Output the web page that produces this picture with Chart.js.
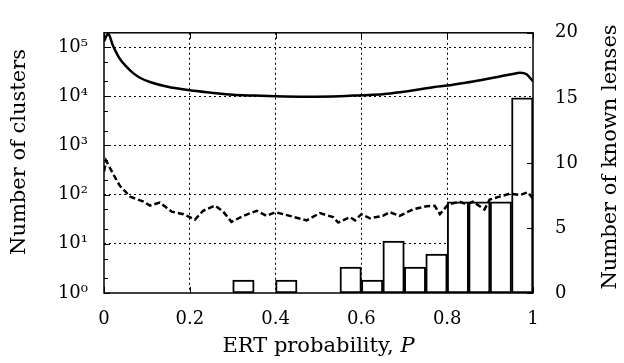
<!DOCTYPE html>
<html>
<head>
<meta charset="utf-8">
<script src="https://cdn.jsdelivr.net/npm/chart.js@4.4.1/dist/chart.umd.min.js"></script>
<style>
  html, body { margin: 0; padding: 0; background: #fff; }
</style>
</head>
<body>
<canvas id="chart" width="624" height="363"></canvas>
<script>
// ERT probability of all clusters (solid line, left log axis)
const allP = [0, 0.01, 0.02, 0.037, 0.05, 0.068, 0.085, 0.107, 0.146, 0.2, 0.25, 0.3, 0.35, 0.4, 0.47,
              0.55, 0.6, 0.65, 0.69, 0.73, 0.77, 0.8, 0.845, 0.88, 0.92, 0.95, 0.97, 0.985, 1.0];
const allN = [132000, 186000, 112000, 57500, 42000, 29500, 23500, 19500, 15800, 13200, 11800, 10700, 10300, 10000, 9800,
              10000, 10500, 11000, 12000, 13500, 15500, 16500, 19000, 21500, 25000, 28000, 30000, 28000, 20000];

// second cluster sample (dashed line, left log axis)
const subP = [0, 0.005, 0.022, 0.037, 0.061, 0.092, 0.107, 0.13, 0.158, 0.185, 0.212, 0.231, 0.259, 0.278, 0.297,
              0.325, 0.356, 0.379, 0.4, 0.433, 0.472, 0.503, 0.534, 0.546, 0.573, 0.585, 0.6, 0.62, 0.65, 0.666,
              0.689, 0.72, 0.752, 0.771, 0.783, 0.802, 0.829, 0.845, 0.86, 0.887, 0.899, 0.922, 0.946, 0.969, 0.988, 1.0];
const subN = [295, 490, 257, 151, 91, 72, 60, 69, 45, 40, 31, 47, 60, 45, 28,
              37, 47, 37, 44, 37, 30, 42, 35, 27, 35, 30, 40, 33, 37, 44,
              37, 50, 58, 59, 40, 63, 72, 63, 72, 50, 79, 91, 105, 98, 112, 83];

// known lenses histogram (right axis), bins of width 0.05
const binCenters = [0.025, 0.075, 0.125, 0.175, 0.225, 0.275, 0.325, 0.375, 0.425, 0.475,
                    0.525, 0.575, 0.625, 0.675, 0.725, 0.775, 0.825, 0.875, 0.925, 0.975];
const lensCounts = [0, 0, 0, 0, 0, 0, 1, 0, 1, 0, 0, 2, 1, 4, 2, 3, 7, 7, 7, 15];

const xTicks = [0, 0.2, 0.4, 0.6, 0.8, 1];
const decades = [1, 10, 100, 1000, 10000, 100000];
const minorLog = [2, 5, 20, 50, 200, 500, 2000, 5000, 20000, 50000];
const rightTicks = [0, 5, 10, 15, 20];

const FONT = 'DejaVu Serif';
const TITLE_SIZE = 21;
const sup = ['⁰', '¹', '²', '³', '⁴', '⁵'];

const frame = {
  id: 'frame',
  afterDatasetsDraw(chart) {
    const { ctx, chartArea: a, scales } = chart;
    ctx.save();
    ctx.strokeStyle = '#000';
    ctx.lineWidth = 1;
    ctx.setLineDash([]);
    ctx.beginPath();
    // inward minor ticks, log axis (left)
    minorLog.forEach(v => {
      const y = Math.round(scales.y.getPixelForValue(v)) + 0.5;
      ctx.moveTo(a.left, y); ctx.lineTo(a.left + 4, y);
    });
    decades.forEach(v => {
      const y = Math.round(scales.y.getPixelForValue(v)) + 0.5;
      ctx.moveTo(a.left, y); ctx.lineTo(a.left + 6, y);
    });
    // inward ticks, right axis
    rightTicks.forEach(v => {
      const y = Math.round(scales.y2.getPixelForValue(v)) + 0.5;
      ctx.moveTo(a.right, y); ctx.lineTo(a.right - 6, y);
    });
    // x ticks top and bottom
    xTicks.forEach(v => {
      const x = Math.round(scales.x.getPixelForValue(v)) + 0.5;
      ctx.moveTo(x, a.bottom); ctx.lineTo(x, a.bottom - 6);
      ctx.moveTo(x, a.top); ctx.lineTo(x, a.top + 6);
    });
    ctx.stroke();
    ctx.lineWidth = 1.5;
    ctx.strokeRect(a.left, a.top, a.right - a.left, a.bottom - a.top);

    ctx.fillStyle = '#000';
    ctx.font = TITLE_SIZE + 'px "' + FONT + '"';
    ctx.textAlign = 'center';
    ctx.textBaseline = 'middle';
    // left axis title (reads bottom to top)
    ctx.save();
    ctx.translate(20, 152);
    ctx.rotate(-Math.PI / 2);
    ctx.fillText('Number of clusters', 0, 0);
    ctx.restore();
    // right axis title (reads bottom to top)
    ctx.save();
    ctx.translate(611, 157);
    ctx.rotate(-Math.PI / 2);
    ctx.fillText('Number of known lenses', 0, 0);
    ctx.restore();

    // x axis title with italic P
    const t1 = 'ERT probability, ';
    const t2 = 'P';
    ctx.font = TITLE_SIZE + 'px "' + FONT + '"';
    const w1 = ctx.measureText(t1).width;
    ctx.font = 'italic ' + TITLE_SIZE + 'px "' + FONT + '"';
    const w2 = ctx.measureText(t2).width;
    const x0 = (a.left + a.right) / 2 - (w1 + w2) / 2;
    ctx.textAlign = 'left';
    ctx.font = TITLE_SIZE + 'px "' + FONT + '"';
    ctx.fillText(t1, x0, 347);
    ctx.font = 'italic ' + TITLE_SIZE + 'px "' + FONT + '"';
    ctx.fillText(t2, x0 + w1, 347);
    ctx.restore();
  }
};

const dotted = [2, 3];

new Chart(document.getElementById('chart'), {
  data: {
    datasets: [
      {
        type: 'line',
        label: 'All clusters',
        data: allP.map((p, i) => ({ x: p, y: allN[i] })),
        yAxisID: 'y',
        borderColor: '#000',
        borderWidth: 2.5,
        pointRadius: 0,
        cubicInterpolationMode: 'monotone',
        order: 1
      },
      {
        type: 'line',
        label: 'Subsample',
        data: subP.map((p, i) => ({ x: p, y: subN[i] })),
        yAxisID: 'y',
        borderColor: '#000',
        borderWidth: 2.5,
        borderDash: [6, 3],
        pointRadius: 0,
        tension: 0,
        order: 2
      },
      {
        type: 'bar',
        label: 'Known lenses',
        data: binCenters.map((c, i) => ({ x: c, y: lensCounts[i] })),
        yAxisID: 'y2',
        backgroundColor: '#fff',
        borderColor: '#000',
        borderWidth: 2,
        borderSkipped: false,
        categoryPercentage: 1,
        barPercentage: 1,
        order: 3
      }
    ]
  },
  options: {
    responsive: false,
    animation: false,
    layout: { padding: { top: 23 } },
    plugins: { legend: { display: false }, tooltip: { enabled: false } },
    scales: {
      x: {
        type: 'linear',
        offset: false,
        min: 0,
        max: 1,
        afterBuildTicks: s => { s.ticks = xTicks.map(v => ({ value: v })); },
        afterFit: s => { s.height = 70; },
        ticks: {
          color: '#000',
          font: { family: FONT, size: 18 },
          padding: 16,
          maxRotation: 0,
          callback: v => String(v)
        },
        grid: {
          offset: false,
          color: ctx => (ctx.tick && (ctx.tick.value === 0 || ctx.tick.value === 1)) ? 'rgba(0,0,0,0)' : '#000',
          lineWidth: 1,
          drawTicks: false
        },
        border: { display: false, dash: dotted }
      },
      y: {
        type: 'logarithmic',
        position: 'left',
        min: 1,
        max: 195000,
        afterBuildTicks: s => { s.ticks = decades.map(v => ({ value: v })); },
        afterFit: s => { s.width = 104; },
        ticks: {
          color: '#000',
          font: { family: FONT, size: 18 },
          padding: 16,
          callback: v => '10' + sup[Math.round(Math.log10(v))]
        },
        grid: {
          color: ctx => (ctx.tick && ctx.tick.value === 1) ? 'rgba(0,0,0,0)' : '#000',
          lineWidth: 1,
          drawTicks: false
        },
        border: { display: false, dash: dotted }
      },
      y2: {
        type: 'linear',
        position: 'right',
        min: 0,
        max: 20,
        afterBuildTicks: s => { s.ticks = rightTicks.map(v => ({ value: v })); },
        afterFit: s => { s.width = 91; },
        ticks: {
          color: '#000',
          font: { family: FONT, size: 18 },
          padding: 22
        },
        grid: { display: false, drawTicks: false },
        border: { display: false }
      }
    }
  },
  plugins: [frame]
});
</script>
</body>
</html>
